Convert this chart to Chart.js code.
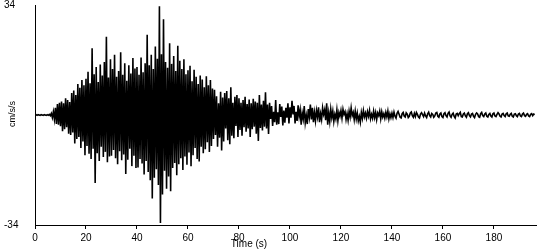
<!DOCTYPE html>
<html>
<head>
<meta charset="utf-8">
<script src="https://cdn.jsdelivr.net/npm/chart.js@4.4.0/dist/chart.umd.min.js"></script>
<style>
  body { margin: 0; background: #fff; }
</style>
</head>
<body>
<canvas id="accel_Chart" width="550" height="250"></canvas>
<script>
// sample step of the record, seconds
var sampleStep = 0.4;

// acceleration, cm/s/s, one row = 10 s
var accel = [
    0, 0.1, -0.1, 0.1, 0, -0.1, 0.1, 0, -0.1, 0.1, 0, -0.1, 0.1, -0.1, 0.2, -0.2, 0.5, -0.8, 1.0, -1.3, 2.2, -2.8, 3.4, -3.0, 3.8,
    -3.5, 4.2, -5.0, 3.6, -4.4, 5.2, -3.8, 4.6, -5.8, 4.0, -6.2, 6.8, -5.4, 7.6, -8.8, 6.2, -7.4, 9.6, -6.8, 8.4, -10.2, 10.8, -8.2, 9.2, -12.4,
    11.2, -9.6, 13.4, -12.0, 9.8, -13.6, 20.6, -10.4, 12.6, -21.0, 14.8, -11.8, 10.2, -14.2, 15.6, -9.8, 12.2, -13.0, 16.4, -11.4, 24.2, -14.6, 11.6, -12.8, 17.2,
    -12.6, 14.2, -10.8, 18.6, -13.4, 11.8, -15.2, 13.6, -11.2, 19.4, -14.0, 12.4, -12.2, 16.0, -18.2, 10.6, -13.8, 15.4, -10.4, 12.8, -15.8, 17.6, -12.6, 14.4, -16.4,
    14.8, -16.2, 12.4, -13.6, 17.8, -15.0, 13.2, -18.4, 16.0, -14.2, 24.8, -17.6, 15.4, -20.2, 18.6, -25.8, 14.2, -19.4, 21.2, -16.8, 17.4, -21.6, 33.6, -33.4, 18.8,
    -24.6, 29.6, -17.2, 16.4, -22.8, 14.6, -19.0, 22.2, -23.6, 15.8, -16.4, 18.2, -14.8, 13.6, -18.6, 21.4, -15.2, 16.8, -13.4, 14.2, -17.0, 17.2, -12.8, 12.6, -15.4,
    13.8, -11.6, 15.2, -15.8, 10.4, -12.4, 14.0, -10.2, 11.8, -13.6, 9.6, -14.4, 12.2, -9.8, 11.0, -11.8, 8.6, -10.6, 12.0, -8.4, 9.2, -11.4, 10.8, -9.6, 8.2,
    -7.4, 7.8, -6.2, 5.8, -9.8, 3.6, -7.0, 7.2, -11.0, 5.4, -8.2, 6.8, -4.2, 7.4, -7.8, 5.2, -9.0, 8.6, -6.4, 3.8, -7.2, 5.6, -3.4, 6.2, -6.8,
    5.2, -4.6, 3.8, -6.4, 4.6, -3.8, 5.6, -5.2, 3.4, -4.2, 4.8, -6.8, 3.6, -4.4, 5.0, -3.6, 4.2, -5.8, 3.8, -8.0, 6.2, -4.0, 3.2, -4.8, 4.4,
    -3.6, 7.0, -4.2, 3.2, -5.9, 3.8, -1.2, 2.8, -3.4, 1.0, -2.2, 4.6, -3.0, 0.8, -2.8, 3.4, -0.6, 2.6, -3.2, 1.4, -2.4, 2.2, -0.8, 3.6, -2.6,
    2.4, -0.8, 4.4, 0.2, 2.8, -2.6, 1.0, -1.8, 3.0, -0.4, 1.6, -3.0, 0.6, -1.2, 2.8, -2.4, -0.2, -2.8, 1.8, -0.6, 3.2, -1.4, 2.2, -2.2, 0.8,
    -1.8, 1.4, -0.6, 2.4, -2.2, 0.4, -1.4, 2.2, 0.2, 1.6, -1.6, 3.6, -3.0, 0.6, -2.0, 1.8, -0.8, 1.2, -2.0, 0.2, -1.2, 1.6, -1.8, 0.8, -0.4,
    1.4, -1.0, 1.8, 0.2, 1.0, -1.4, 0.4, -1.6, 1.2, -0.6, 2.2, -0.2, 0.8, -1.4, 1.2, -1.2, 0.6, -1.8, -0.4, -2.2, 0.8, -1.0, 1.4, -0.6, 0.6,
    -1.0, 1.0, -0.4, 1.4, -1.2, 0.2, -1.0, 1.2, -0.8, 0.8, -1.4, 0.6, -0.2, 1.2, -1.2, 1.0, -0.6, 0.4, -1.0, 0.8, -0.6, 1.2, -1.2, 0.4, -0.8,
    0.6, -0.8, 0.9, -0.4, -1.0, 0.5, 1.1, 0.2, -0.7, -0.9, 0.4, 0.8, -0.3, -0.6, 0.7, 0.3, -0.8, -0.4, 0.6, 0.9, -0.2, -0.7, 0.5, -0.5, 0.8,
    0.2, -0.6, -0.9, 0.3, 0.7, 0.1, -0.5, 0.6, -0.3, -0.8, 0.4, 0.9, -0.2, -0.6, 0.5, 0.2, -0.7, -0.3, 0.6, 0.8, -0.4, -0.7, 0.3, 0.6, -0.5,
    -0.8, 0.4, 0.7, -0.2, -0.6, 0.5, 0.9, -0.3, -0.7, 0.2, 0.6, -0.4, -0.9, 0.3, 0.5, -0.2, 0.4, 0.8, -0.5, -0.6, 0.3, 0.6, -0.3, -0.7, 0.4,
    0.7, -0.2, -0.6, 0.3, 0.5, -0.4, -0.8, 0.2, 0.6, 0.3, -0.5, -0.7, 0.4, 0.8, -0.2, -0.5, 0.3, 0.6, -0.4, -0.6, 0.2, 0.5, -0.3, -0.6, 0.4,
    0.6, -0.3, -0.5, 0.2, 0.7, 0.3, -0.4, -0.6, 0.3, 0.5, -0.2, -0.5, 0.4, 0.6, -0.3, -0.4, 0.2, 0.5, -0.4, -0.6, 0.3, 0.4, -0.2, -0.5, 0.3,
    0.5, -0.3, -0.5, 0.3, 0.6, -0.2, -0.4, 0.2, 0.4, -0.3, -0.5, 0.2, 0.4, -0.2, 0.3, 0.1
];

var xTicks = [0, 20, 40, 60, 80, 100, 120, 140, 160, 180];
var yTicks = [-34, 34];
var xMax = 196.5;
var xTitle = 'Time (s)';
var yTitle = 'cm/s/s';

var ctx = document.getElementById('accel_Chart');

function buildPoints(values) {
    var points = [];
    values.forEach(function (v, i) {
        points.push({ x: i * sampleStep, y: v });
    });
    return points;
}

// axis titles sit where the original put them, not centred on the axes
var axisTitles = {
    id: 'axisTitles',
    afterDraw: function (chart) {
        var c = chart.ctx;
        c.save();
        c.fillStyle = '#000';
        c.textAlign = 'center';
        c.textBaseline = 'middle';
        c.font = '10px "Liberation Sans", Arial, sans-serif';
        c.fillText(xTitle, 249, 244);
        c.translate(12.5, 114);
        c.rotate(-Math.PI / 2);
        c.font = '9px "Liberation Sans", Arial, sans-serif';
        c.fillText(yTitle, 0, 0);
        c.restore();
    }
};

var tickFont = { family: '"Liberation Sans", Arial, sans-serif', size: 10 };

var myChart = new Chart(ctx, {
    type: 'line',
    data: {
        datasets: [{
            data: buildPoints(accel),
            borderColor: '#000',
            borderWidth: 1.6,
            pointRadius: 0,
            tension: 0,
            fill: false
        }]
    },
    options: {
        responsive: false,
        animation: false,
        devicePixelRatio: 1,
        layout: { padding: { left: 4, right: 14, top: 5, bottom: 0 } },
        plugins: {
            legend: { display: false },
            tooltip: { enabled: false }
        },
        scales: {
            x: {
                type: 'linear',
                min: 0,
                max: xMax,
                afterBuildTicks: function (scale) {
                    scale.ticks = xTicks.map(function (v) { return { value: v }; });
                },
                afterFit: function (scale) {
                    scale.height = 25;
                    scale.paddingLeft = 0;
                    scale.paddingRight = 0;
                },
                border: { color: '#000', width: 1 },
                grid: { drawOnChartArea: false, drawTicks: true, tickLength: 4, tickColor: '#000' },
                ticks: { color: '#000', font: tickFont, padding: 3, maxRotation: 0, autoSkip: false }
            },
            y: {
                min: -34,
                max: 34,
                afterBuildTicks: function (scale) {
                    scale.ticks = yTicks.map(function (v) { return { value: v }; });
                },
                afterFit: function (scale) {
                    scale.width = 31;
                    scale.paddingTop = 0;
                    scale.paddingBottom = 0;
                },
                border: { color: '#000', width: 1 },
                grid: { drawOnChartArea: false, drawTicks: false },
                ticks: { color: '#000', font: tickFont, crossAlign: 'far', autoSkip: false }
            }
        }
    },
    plugins: [axisTitles]
});
</script>
</body>
</html>
